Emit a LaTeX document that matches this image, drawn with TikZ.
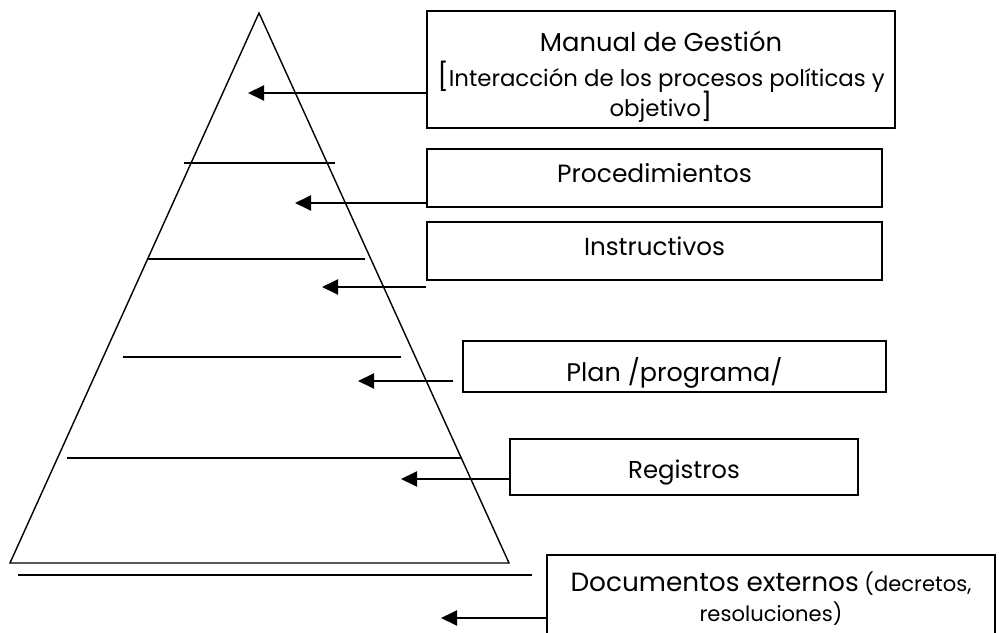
\documentclass[tikz,border=0pt]{standalone}
\usepackage{fontspec}
\setmainfont{Poppins}
\usetikzlibrary{arrows.meta}

\begin{document}
\begin{tikzpicture}[
		caja/.style={draw, line width=1pt, inner sep=0pt, align=center},
		nivel/.style={line width=1.1pt},
		flecha/.style={line width=1.1pt, -{Triangle[length=0.32cm, width=0.3cm]}}
	]
		%%%%% START %%%%%
		\useasboundingbox (0, 0) rectangle (19.98, 12.64);
		
		% piramide
		\draw[line width=0.8pt] (5.18, 12.38) -- (0.2, 1.38) -- (10.18, 1.38) -- cycle;
		\draw[nivel] (3.68, 9.38) -- (6.70, 9.38);
		\draw[nivel] (2.96, 7.46) -- (7.30, 7.46);
		\draw[nivel] (2.46, 5.50) -- (8.02, 5.50);
		\draw[nivel] (1.34, 3.48) -- (9.24, 3.48);
		\draw[nivel] (0.36, 1.14) -- (10.64, 1.14);
		
		% cajas
		\node[caja, minimum width=9.36cm, minimum height=2.34cm,
			font=\fontsize{13}{0.6cm}\selectfont] (manual) at (13.22, 11.25)
			{\rule{0pt}{0.7cm}{\fontsize{14.7}{0.6cm}\selectfont Manual de Gestión}\\[0.1cm]
			 \smash{\fontsize{15.5}{0.6cm}\selectfont[}Interacción de los procesos políticas y\\
			 objetivo\smash{\fontsize{15.5}{0.6cm}\selectfont]}};
		\node[caja, minimum width=9.1cm, minimum height=1.16cm, text height=0.4cm, text depth=0.2cm,
			font=\fontsize{14.2}{16}\selectfont] (proc) at (13.09, 9.08) {Procedimientos};
		\node[caja, minimum width=9.1cm, minimum height=1.16cm, text height=0.4cm, text depth=0.2cm,
			font=\fontsize{14}{16}\selectfont] (instr) at (13.09, 7.62) {Instructivos};
		\node[caja, minimum width=8.46cm, minimum height=1.02cm, text height=0.62cm, text depth=0cm,
			font=\fontsize{14.5}{16}\selectfont] (plan) at (13.49, 5.31) {Plan /programa/};
		\node[caja, minimum width=6.96cm, minimum height=1.12cm, text height=0.44cm, text depth=0cm,
			font=\fontsize{13.9}{16}\selectfont] (reg) at (13.68, 3.30) {Registros};
		\node[caja, minimum width=8.96cm, minimum height=1.74cm,
			font=\fontsize{12}{0.6cm}\selectfont] (ext) at (15.42, 0.67)
			{{\fontsize{15}{0.6cm}\selectfont Documentos externos} (decretos,\\
			 resoluciones)};
		
		% flechas
		\coordinate (p1) at (4.96, 10.78);
		\coordinate (p2) at (5.90, 8.58);
		\coordinate (p3) at (6.44, 6.90);
		\coordinate (p4) at (7.16, 5.02);
		\coordinate (p5) at (8.02, 3.06);
		\coordinate (p6) at (8.82, 0.28);
		\draw[flecha] (p1 -| manual.west) -- (p1);
		\draw[flecha] (p2 -| proc.west) -- (p2);
		\draw[flecha] (p3 -| instr.west) -- (p3);
		\draw[flecha] ([xshift=-0.18cm]p4 -| plan.west) -- (p4);
		\draw[flecha] (p5 -| reg.west) -- (p5);
		\draw[flecha] (p6 -| ext.west) -- (p6);
		
		%%%%% END %%%%%
	\end{tikzpicture}
\end{document}
